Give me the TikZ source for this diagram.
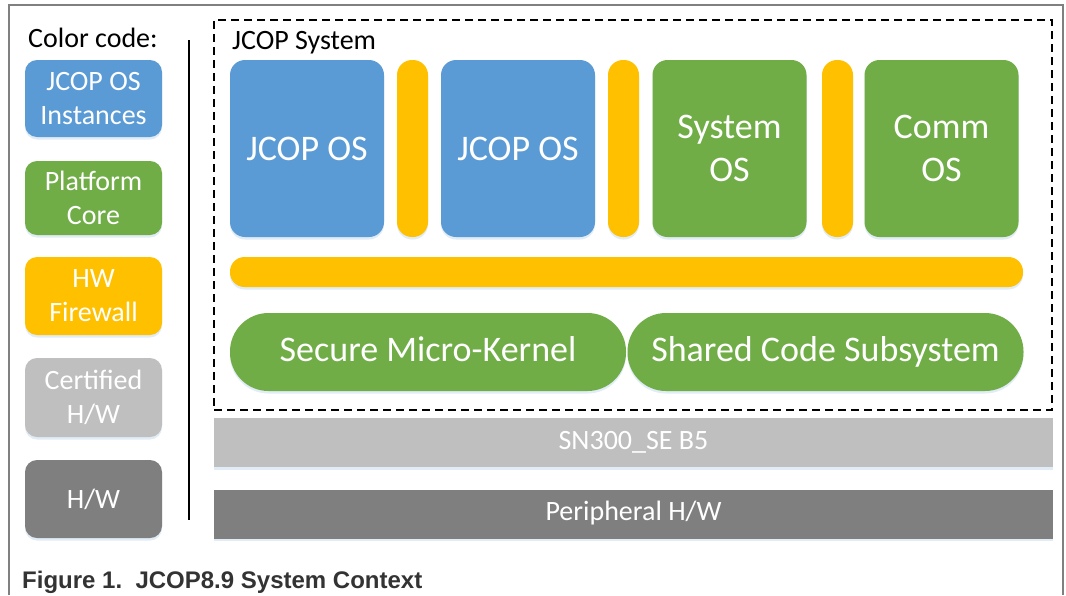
\documentclass[tikz,border=0pt]{standalone}
\usepackage{fontspec}
\setmainfont{Carlito}
\newfontfamily\capfont{Liberation Sans}
\usetikzlibrary{shadows}
\definecolor{cblue}{RGB}{91,155,213}
\definecolor{cgreen}{RGB}{112,173,71}
\definecolor{cyellow}{RGB}{255,192,0}
\definecolor{clgray}{RGB}{191,191,191}
\definecolor{cdgray}{RGB}{127,127,127}
\definecolor{cshadow}{RGB}{189,215,238}
\definecolor{cframe}{RGB}{128,128,128}
\definecolor{ccap}{RGB}{51,51,51}
\tikzset{
  shd/.style={drop shadow={shadow xshift=0pt, shadow yshift=-2.5pt, opacity=0.45, fill=cshadow}},
  blk/.style={shd, draw=none, inner sep=0pt, align=center, text=white},
  big/.style={font=\fontsize{36}{43}\selectfont},
  small/.style={font=\fontsize{28}{34}\selectfont},
  legbox/.style={blk, small, rounded corners=12pt, minimum width=137pt},
  osbox/.style={blk, big, rounded corners=15pt, minimum width=154pt, minimum height=177pt},
  vpill/.style={blk, fill=cyellow, rounded corners=15pt, minimum width=31pt, minimum height=177pt},
  stadium/.style={blk, big, fill=cgreen, rounded corners=38.5pt, minimum width=396pt, minimum height=78pt, text height=25pt, text depth=7pt},
  layer/.style={blk, small, minimum width=839pt, minimum height=49pt, text height=19pt, text depth=6pt},
}
\begin{document}
\begin{tikzpicture}[x=1pt,y=-1pt]
\useasboundingbox (0,0) rectangle (1066,595);
\fill[white] (0,0) rectangle (1066,595);
% outer frame
\coordinate (fbl) at (9,595);
\coordinate (ftl) at (9,5);
\coordinate (ftr) at (1063,5);
\coordinate (fbr) at (1063,595);
\draw[cframe, line width=1.2pt] (fbl) -- (ftl) -- (ftr) -- (fbr);

% legend
\node[anchor=base west, small, inner sep=0pt] (cc) at (28,47) {Color code:};
\node[legbox, fill=cblue, minimum height=77pt] (l1) at (93.5,98.5) {JCOP OS\\Instances};
\node[legbox, fill=cgreen, minimum height=74pt] (l2) at (93.5,198) {Platform\\Core};
\node[legbox, fill=cyellow, minimum height=78pt] (l3) at (93.5,296) {HW\\Firewall};
\node[legbox, fill=clgray, minimum height=79pt] (l4) at (93.5,397.5) {Certified\\H/W};
\node[legbox, fill=cdgray, minimum height=78pt] (l5) at (93.5,499) {H/W};

% separator
\coordinate (s1) at (189,40);
\coordinate (s2) at (189,520);
\draw[black, line width=1.8pt] (s1) -- (s2);

% JCOP system dashed box
\node[draw=black, line width=1.3pt, dash pattern=on 8pt off 5pt, minimum width=838pt, minimum height=390pt, inner sep=0pt] (sys) at (633,215) {};
\node[anchor=base west, small, inner sep=0pt] (syslbl) at (232,49) {JCOP System};

\node[osbox, fill=cblue] (os1) at (307,148.5) {JCOP OS};
\node[vpill] (fw1) at (412.5,148.5) {};
\node[osbox, fill=cblue] (os2) at (518,148.5) {JCOP OS};
\node[vpill] (fw2) at (623.5,148.5) {};
\node[osbox, fill=cgreen] (os3) at (729.5,148.5) {System\\OS};
\node[vpill] (fw3) at (837.5,148.5) {};
\node[osbox, fill=cgreen] (os4) at (941.5,148.5) {Comm\\OS};

\node[blk, fill=cyellow, rounded corners=14.5pt, minimum width=793pt, minimum height=30pt] (hfw) at (626.5,272) {};

\node[stadium] (smk) at (428,352) {Secure Micro-Kernel};
\node[stadium] (scs) at (825.5,352) {Shared Code Subsystem};

\node[layer, fill=clgray] (sn) at (633.5,442.5) {SN300\_SE B5};
\node[layer, fill=cdgray] (ph) at (633.5,514) {Peripheral H/W};

% caption
\node[anchor=base west, inner sep=0pt, text=ccap, font=\capfont\bfseries\fontsize{24}{28}\selectfont] (cap) at (22,588) {Figure 1.\ \ JCOP8.9 System Context};
\end{tikzpicture}
\end{document}
